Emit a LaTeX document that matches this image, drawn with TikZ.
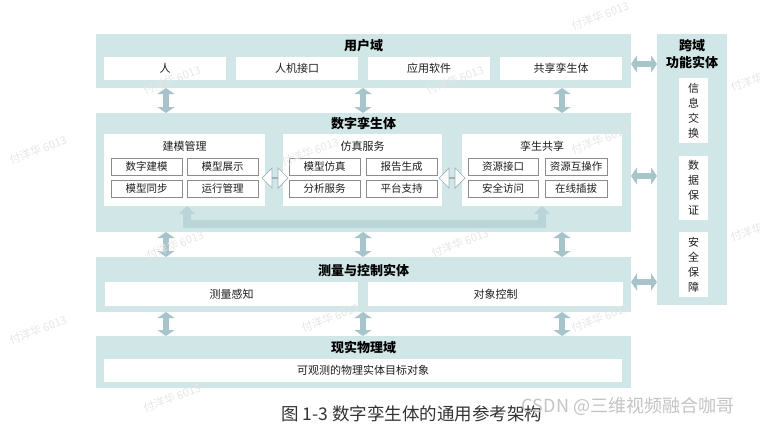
\documentclass[tikz,border=0pt]{standalone}
\usepackage{fontspec}
\setmainfont{Noto Sans CJK SC}
\usetikzlibrary{arrows.meta,shapes.arrows,calc}
\definecolor{panel}{HTML}{D1E6E6}
\definecolor{arrowc}{HTML}{A8C4CB}
\definecolor{bandc}{HTML}{BAD5D8}
\definecolor{hollowc}{HTML}{9FB1B8}
\definecolor{boxline}{HTML}{8C8C8C}
\definecolor{txt}{HTML}{1E1E1E}
\definecolor{captxt}{HTML}{333333}
\definecolor{wm}{HTML}{E6E6E6}
\definecolor{csdn}{HTML}{C4C4C4}
\begin{document}
\begin{tikzpicture}[x=1pt,y=-1pt,
  panelbox/.style={anchor=north west, fill=panel, inner sep=0, outer sep=0},
  wbox/.style={anchor=north west, fill=white, inner sep=0, outer sep=0, text=txt, font=\fontsize{11}{11}\selectfont},
  sbox/.style={anchor=north west, fill=white, draw=boxline, line width=0.6pt, inner sep=0, outer sep=0, text=txt, minimum height=17pt, font=\fontsize{10.5}{10.5}\selectfont},
  ptitle/.style={font=\bfseries\fontsize{13}{13}\selectfont, text=black, inner sep=0},
  subtitle/.style={font=\fontsize{11}{11}\selectfont, text=txt, inner sep=0},
  darrow/.style={line width=6pt, draw=arrowc, {Triangle[width=17pt,length=6pt]}-{Triangle[width=17pt,length=6pt]}},
  hollow/.style={double arrow, draw=hollowc, fill=white, line width=0.7pt, inner sep=0, minimum height=26pt, minimum width=20pt, double arrow head extend=6pt, double arrow head indent=0pt},
  band/.style={line width=8pt, draw=bandc, line join=miter, {Triangle[width=16pt,length=8pt]}-{Triangle[width=16pt,length=8pt]}},
  vtext/.style={align=center, font=\fontsize{11}{15}\selectfont},
  wmark/.style={rotate=20, text=wm, font=\fontsize{11}{11}\selectfont, inner sep=0}
]
\useasboundingbox (0,0) rectangle (760,426);
\fill[white] (0,0) rectangle (760,426);

% panels
\node[panelbox, minimum width=535pt, minimum height=54pt] (user) at (96,34) {};
\node[panelbox, minimum width=535pt, minimum height=119pt] (dt) at (96,113) {};
\node[panelbox, minimum width=535pt, minimum height=55pt] (mc) at (96,257) {};
\node[panelbox, minimum width=535pt, minimum height=52pt] (phys) at (96,336) {};
\node[panelbox, minimum width=70pt, minimum height=271pt] (cross) at (657,34) {};

% titles
\node[ptitle] (userT) at (363.5,46) {用户域};
\node[ptitle] (dtT) at (363.5,124) {数字孪生体};
\node[ptitle] (mcT) at (363.5,270) {测量与控制实体};
\node[ptitle] (physT) at (363.5,347) {现实物理域};
\node[ptitle] (crossT1) at (692,46) {跨域};
\node[ptitle] (crossT2) at (692,62) {功能实体};

% user domain boxes
\node[wbox, minimum width=122pt, minimum height=23pt] (u1) at (104,57) {人};
\node[wbox, minimum width=122pt, minimum height=23pt] (u2) at (236,57) {人机接口};
\node[wbox, minimum width=122pt, minimum height=23pt] (u3) at (368,57) {应用软件};
\node[wbox, minimum width=122pt, minimum height=23pt] (u4) at (500,57) {共享孪生体};

% digital twin sub boxes
\node[wbox, minimum width=161pt, minimum height=72pt] (m1) at (104,134) {};
\node[wbox, minimum width=159pt, minimum height=72pt] (m2) at (283,134) {};
\node[wbox, minimum width=160pt, minimum height=72pt] (m3) at (462,134) {};
\node[subtitle] (m1t) at (184.5,146) {建模管理};
\node[subtitle] (m2t) at (362.5,146) {仿真服务};
\node[subtitle] (m3t) at (542,146) {孪生共享};

\node[sbox, minimum width=71pt] (a1) at (111,158) {数字建模};
\node[sbox, minimum width=71pt] (a2) at (187,158) {模型展示};
\node[sbox, minimum width=71pt] (a3) at (111,180) {模型同步};
\node[sbox, minimum width=71pt] (a4) at (187,180) {运行管理};

\node[sbox, minimum width=71pt] (b1) at (289,158) {模型仿真};
\node[sbox, minimum width=71pt] (b2) at (366,158) {报告生成};
\node[sbox, minimum width=71pt] (b3) at (289,180) {分析服务};
\node[sbox, minimum width=71pt] (b4) at (366,180) {平台支持};

\node[sbox, minimum width=70pt] (c1) at (468,158) {资源接口};
\node[sbox, minimum width=62pt] (c2) at (545,158) {资源互操作};
\node[sbox, minimum width=70pt] (c3) at (468,180) {安全访问};
\node[sbox, minimum width=62pt] (c4) at (545,180) {在线插拔};

% hollow double arrows between sub boxes
\node[hollow] (h1) at (275,178) {};
\node[hollow] (h2) at (452,178) {};

% bottom band arrow
\coordinate (bl) at (187,224);
\coordinate (br) at (542,224);
\draw[band] (m1.south -| bl) -- (bl) -- (br) -- (m3.south -| br);

% measurement and physical boxes
\node[wbox, minimum width=253pt, minimum height=24pt] (s1) at (105,282) {测量感知};
\node[wbox, minimum width=255pt, minimum height=24pt] (s2) at (368,282) {对象控制};
\node[wbox, minimum width=518pt, minimum height=23pt] (p1) at (104,359) {可观测的物理实体目标对象};

% cross-domain boxes
\node[wbox, minimum width=29pt, minimum height=65pt, vtext] (x1) at (679,78) {信\\息\\交\\换};
\node[wbox, minimum width=29pt, minimum height=64pt, vtext] (x2) at (679,156) {数\\据\\保\\证};
\node[wbox, minimum width=29pt, minimum height=65pt, vtext] (x3) at (679,232) {安\\全\\保\\障};

% vertical arrows
\coordinate (vx1) at (166,0);
\coordinate (vx2) at (363,0);
\coordinate (vx3) at (562,0);
\foreach \v in {vx1,vx2,vx3}{
  \draw[darrow] (user.south -| \v) -- (dt.north -| \v);
  \draw[darrow] (dt.south -| \v) -- (mc.north -| \v);
  \draw[darrow] (mc.south -| \v) -- (phys.north -| \v);
}

% horizontal arrows to cross-domain column
\coordinate (hy1) at (0,64);
\coordinate (hy2) at (0,176);
\coordinate (hy3) at (0,282);
\foreach \h in {hy1,hy2,hy3}{
  \draw[darrow] (user.east |- \h) -- (cross.west |- \h);
}

% caption
\node[font=\fontsize{17.5}{17.5}\selectfont, text=captxt, inner sep=0] (cap) at (412,414) {图 1-3 数字孪生体的通用参考架构};

% watermarks
\node[wmark] (w1) at (172,80) {付洋华 6013};
\node[wmark] (w2) at (455,80) {付洋华 6013};
\node[wmark] (w3) at (310,152) {付洋华 6013};
\node[wmark] (w4) at (600,140) {付洋华 6013};
\node[wmark] (w5) at (175,245) {付洋华 6013};
\node[wmark] (w6) at (460,243) {付洋华 6013};
\node[wmark] (w7) at (330,318) {付洋华 6013};
\node[wmark] (w8) at (600,318) {付洋华 6013};
\node[wmark] (w9) at (172,398) {付洋华 6013};
\node[wmark] (w10) at (38,150) {付洋华 6013};
\node[wmark] (w11) at (600,16) {付洋华 6013};
\node[wmark, anchor=west] (w12) at (731,88) {付洋华};
\node[wmark, anchor=west] (w13) at (731,238) {付洋华};
\node[wmark] (w14) at (38,330) {付洋华 6013};
\node[font=\fontsize{18}{18}\selectfont, text=csdn, inner sep=0] (csdn) at (628,406) {CSDN @三维视频融合咖哥};
\end{tikzpicture}
\end{document}
